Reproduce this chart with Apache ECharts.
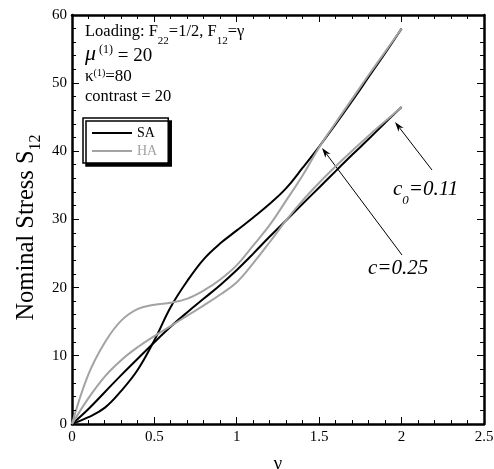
<!DOCTYPE html>
<html>
<head>
<meta charset="utf-8">
<title>Nominal Stress S12</title>
<script src="https://cdn.jsdelivr.net/npm/echarts@6/dist/echarts.min.js"></script>
<style>
html,body{margin:0;padding:0;background:#fff;}
#main{width:494px;height:469px;}
</style>
</head>
<body>
<div id="main"></div>
<script>
// gamma sample points (shared by all curves)
var gammaVals = [0, 0.1, 0.2, 0.3, 0.4, 0.5, 0.6, 0.7, 0.8, 0.9, 1.0,
                 1.1, 1.2, 1.3, 1.4, 1.5, 1.6, 1.7, 1.8, 1.9, 2.0];
// c = 0.25
var saC25 = [0, 1.0, 2.4, 4.9, 8.0, 12.3, 17.2, 21.0, 24.2, 26.5, 28.4,
             30.3, 32.3, 34.6, 37.6, 40.7, 44.0, 47.4, 50.9, 54.4, 58.0];
var haC25 = [0, 7.3, 12.0, 15.2, 16.9, 17.5, 17.8, 18.4, 19.6, 21.2, 23.3,
             26.2, 29.2, 32.8, 36.5, 40.6, 44.2, 47.7, 51.2, 54.6, 58.0];
// c0 = 0.11
var saC11 = [0, 2.2, 4.7, 7.2, 9.6, 12.0, 14.3, 16.4, 18.4, 20.4, 22.6,
             25.0, 27.5, 29.9, 32.3, 34.7, 37.1, 39.5, 41.8, 44.2, 46.5];
var haC11 = [0, 3.8, 7.0, 9.4, 11.3, 12.9, 14.4, 15.9, 17.4, 19.0, 20.8,
             23.6, 26.7, 29.9, 32.8, 35.4, 37.8, 40.1, 42.3, 44.4, 46.5];
var legendNames = ['SA', 'HA'];
// axis ranges / tick steps
var xMin = 0, xMax = 2.5, xStep = 0.5;
var yMin = 0, yMax = 60, yStep = 10;
var minorSplit = 5;

var serif = "'Liberation Serif', 'Times New Roman', serif";
var grayCol = '#a3a3a3';

function pairs(ys) {
	return gammaVals.map(function (g, i) { return [g, ys[i]]; });
}

function lineSeries(name, ys, color) {
	return {
		name: name,
		type: 'line',
		xAxisIndex: 0,
		yAxisIndex: 0,
		data: pairs(ys),
		smooth: 0.4,
		symbol: 'none',
		lineStyle: { color: color, width: 2 },
		itemStyle: { color: color },
		silent: true
	};
}

//arrow: tail (x1,y1) -> tip (x2,y2)
function arrow(x1, y1, x2, y2) {
	var dx = x2 - x1, dy = y2 - y1, len = Math.sqrt(dx * dx + dy * dy);
	var ux = dx / len, uy = dy / len, nx = -uy, ny = ux;
	var hl = 10, hw = 3.2;
	var bx = x2 - ux * hl, by = y2 - uy * hl;
	var mx = x2 - ux * hl * 0.7, my = y2 - uy * hl * 0.7;
	return [{
		type: 'line',
		shape: { x1: x1, y1: y1, x2: mx, y2: my },
		style: { stroke: '#000', lineWidth: 1 }
	}, {
		type: 'polygon',
		shape: { points: [[x2, y2], [bx + nx * hw, by + ny * hw], [mx, my], [bx - nx * hw, by - ny * hw]] },
		style: { fill: '#000' }
	}];
}

// frame on all four sides; inward ticks are added after layout (see below)
function axisCommon(extra) {
	var o = {
		type: 'value',
		axisLine: { show: true, onZero: false, lineStyle: { color: '#000', width: 2.5 } },
		axisTick: { show: false },
		minorTick: { show: false },
		splitLine: { show: false },
		axisLabel: { show: false }
	};
	for (var k in extra) o[k] = extra[k];
	return o;
}

var myChart = echarts.init(document.getElementById('main'));

var graphics = [
	{
		type: 'text', x: 85, y: 23,
		style: {
			text: '{t|Loading: F}{s|22}{t|=1/2, F}{s|12}{t|=γ}',
			verticalAlign: 'top', align: 'left',
			rich: {
				t: { fontFamily: serif, fontSize: 16.5, lineHeight: 18, verticalAlign: 'top', fill: '#000' },
				s: { fontFamily: serif, fontSize: 11, lineHeight: 11, padding: [13, 0, 0, 0], verticalAlign: 'top', fill: '#000' }
			}
		}
	},
	{
		type: 'text', x: 85, y: 43,
		style: {
			text: '{m|μ}{p| (1)}{q| = 20}',
			verticalAlign: 'top', align: 'left',
			rich: {
				m: { fontFamily: serif, fontSize: 22, fontStyle: 'italic', lineHeight: 24, verticalAlign: 'top', fill: '#000' },
				p: { fontFamily: serif, fontSize: 12, lineHeight: 12, padding: [1, 0, 0, 0], verticalAlign: 'top', fill: '#000' },
				q: { fontFamily: serif, fontSize: 19, lineHeight: 20, padding: [4, 0, 0, 0], verticalAlign: 'top', fill: '#000' }
			}
		}
	},
	{
		type: 'text', x: 85, y: 68,
		style: {
			text: '{k|κ}{p|(1)}{k|=80}',
			verticalAlign: 'top', align: 'left',
			rich: {
				k: { fontFamily: serif, fontSize: 17, lineHeight: 18, verticalAlign: 'top', fill: '#000' },
				p: { fontFamily: serif, fontSize: 10, lineHeight: 10, padding: [0, 0, 0, 0], verticalAlign: 'top', fill: '#000' }
			}
		}
	},
	{
		type: 'text', x: 85, y: 97,
		style: { text: 'contrast = 20', fontFamily: serif, fontSize: 16.5, fill: '#000', verticalAlign: 'middle', align: 'left' }
	},
	{
		type: 'text', x: 393, y: 179,
		style: {
			text: '{c|c}{s|0}{c|=0.11}',
			verticalAlign: 'top', align: 'left',
			rich: {
				c: { fontFamily: serif, fontSize: 21, fontStyle: 'italic', lineHeight: 22, verticalAlign: 'top', fill: '#000' },
				s: { fontFamily: serif, fontSize: 13, fontStyle: 'italic', lineHeight: 13, padding: [15, 0, 0, 0], verticalAlign: 'top', fill: '#000' }
			}
		}
	},
	{
		type: 'text', x: 368, y: 268,
		style: { text: 'c=0.25', fontFamily: serif, fontSize: 21, fontStyle: 'italic', fill: '#000', verticalAlign: 'middle', align: 'left' }
	}
];
graphics = graphics.concat(arrow(432, 170, 395, 122)).concat(arrow(402, 255, 322, 148));

var gridBox = { left: 72, right: 10, top: 15, bottom: 45, outerBoundsMode: 'none' };

var option = {
	backgroundColor: '#fff',
	animation: false,
	grid: [
		Object.assign({}, gridBox),
		Object.assign({}, gridBox)
	],
	legend: {
		orient: 'vertical',
		left: 83, top: 118,
		data: [
			{ name: legendNames[0], textStyle: { color: '#000' } },
			{ name: legendNames[1], textStyle: { color: grayCol } }
		],
		icon: 'rect',
		itemWidth: 40, itemHeight: 2, itemGap: 4,
		padding: [8, 11, 5, 9],
		backgroundColor: '#fff',
		borderColor: '#000', borderWidth: 1.5, borderRadius: 0,
		shadowColor: '#000', shadowBlur: 0, shadowOffsetX: 3, shadowOffsetY: 3,
		textStyle: { fontFamily: serif, fontSize: 14, lineHeight: 14 },
		selectedMode: false
	},
	xAxis: [
		axisCommon({
			gridIndex: 0, position: 'bottom', min: xMin, max: xMax, interval: xStep,
			axisLabel: { show: true, color: '#000', fontFamily: serif, fontSize: 15, margin: 6 },
			name: 'γ', nameLocation: 'middle', nameGap: 31, nameMoveOverlap: false,
			nameTextStyle: { fontFamily: serif, fontSize: 19, color: '#000' }
		}),
		axisCommon({ gridIndex: 1, position: 'top', min: xMin, max: xMax, interval: xStep })
	],
	yAxis: [
		axisCommon({
			gridIndex: 0, position: 'left', min: yMin, max: yMax, interval: yStep,
			axisLabel: { show: true, color: '#000', fontFamily: serif, fontSize: 15, margin: 5 },
			name: '{a|Nominal Stress S}{b|12}', nameLocation: 'middle', nameGap: 31, nameRotate: 90, nameMoveOverlap: false,
			nameTextStyle: {
				color: '#000',
				padding: [0, 16, 0, 0],
				rich: {
					a: { fontFamily: serif, fontSize: 24.5, lineHeight: 27, verticalAlign: 'top', color: '#000' },
					b: { fontFamily: serif, fontSize: 16, lineHeight: 16, padding: [14, 0, 0, 0], verticalAlign: 'top', color: '#000' }
				}
			}
		}),
		axisCommon({ gridIndex: 1, position: 'right', min: yMin, max: yMax, interval: yStep })
	],
	series: [
		lineSeries(legendNames[0], saC25, '#000'),
		lineSeries(legendNames[0], saC11, '#000'),
		lineSeries(legendNames[1], haC25, grayCol),
		lineSeries(legendNames[1], haC11, grayCol)
	]
};
myChart.setOption(option);

// plot rectangle, used only if the library conversion gives nothing usable
var plotL = gridBox.left, plotT = gridBox.top;
var plotR = myChart.getWidth() - gridBox.right, plotB = myChart.getHeight() - gridBox.bottom;
function toPx(xv, yv) {
	var p = null;
	try {
		p = myChart.convertToPixel({ xAxisIndex: 0, yAxisIndex: 0 }, [xv, yv]);
	} catch (e) {
		p = null;
	}
	if (p && isFinite(p[0]) && isFinite(p[1])) return p;
	return [plotL + (xv - xMin) / (xMax - xMin) * (plotR - plotL),
	        plotB - (yv - yMin) / (yMax - yMin) * (plotB - plotT)];
}

// inward major/minor ticks on all four sides, drawn as 1px filled rects
var tickMarks = [];
function tickRect(x, y, w, h) {
	tickMarks.push({
		type: 'rect', silent: true, z: 10,
		shape: { x: x, y: y, width: w, height: h },
		style: { fill: '#000' }
	});
}
var nX = Math.round((xMax - xMin) / xStep * minorSplit);
for (var i = 1; i < nX; i++) {
	var v = xMin + i * xStep / minorSplit;
	var len = (i % minorSplit === 0) ? 7 : 4;
	var pb = toPx(v, yMin);
	var pt = toPx(v, yMax);
	var xr = Math.round(pb[0] - 0.5);
	tickRect(xr, Math.round(pb[1]) - len, 1, len);
	tickRect(xr, Math.round(pt[1]), 1, len);
}
var nY = Math.round((yMax - yMin) / yStep * minorSplit);
for (var j = 1; j < nY; j++) {
	var w = yMin + j * yStep / minorSplit;
	var lenY = (j % minorSplit === 0) ? 7 : 4;
	var pl = toPx(xMin, w);
	var pr = toPx(xMax, w);
	var yr = Math.round(pl[1] - 0.5);
	tickRect(Math.round(pl[0]), yr, lenY, 1);
	tickRect(Math.round(pr[0]) - lenY, yr, lenY, 1);
}
myChart.setOption({ graphic: graphics.concat(tickMarks) });
</script>
</body>
</html>
